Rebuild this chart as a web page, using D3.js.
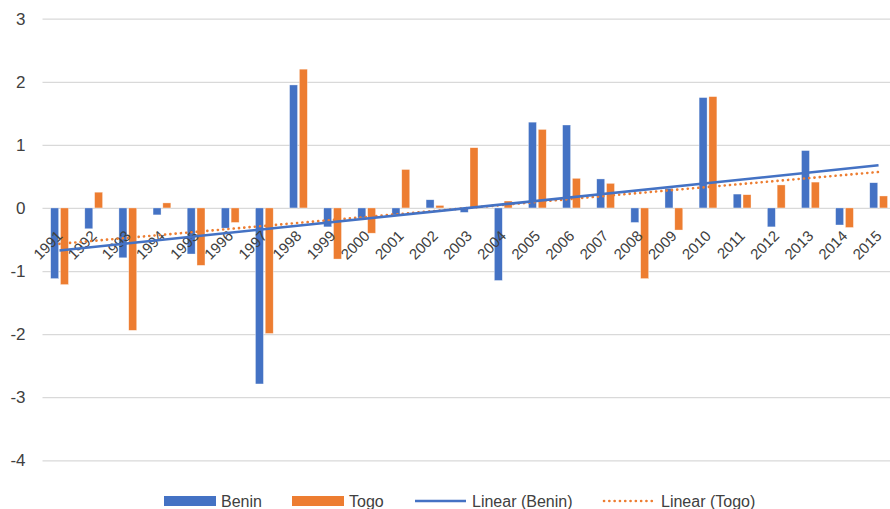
<!DOCTYPE html>
<html>
<head>
<meta charset="utf-8">
<script src="https://cdn.jsdelivr.net/npm/d3@7"></script>
<style>
  html, body { margin: 0; padding: 0; background: #fff; }
  svg { display: block; }
  text { font-family: "Liberation Sans", Arial, sans-serif; fill: #404040; }
</style>
</head>
<body>
<svg id="chart" width="890" height="509"></svg>
<script>
const years = ["1991","1992","1993","1994","1995","1996","1997","1998","1999","2000","2001","2002","2003","2004","2005","2006","2007","2008","2009","2010","2011","2012","2013","2014","2015"];
const benin = [-1.12,-0.33,-0.79,-0.11,-0.73,-0.32,-2.79,1.95,-0.30,-0.16,-0.11,0.13,-0.07,-1.15,1.36,1.315,0.46,-0.23,0.31,1.75,0.22,-0.30,0.91,-0.27,0.40];
const togo  = [-1.215,0.25,-1.94,0.08,-0.91,-0.23,-1.99,2.20,-0.81,-0.40,0.61,0.04,0.955,0.11,1.245,0.47,0.39,-1.12,-0.35,1.765,0.21,0.365,0.41,-0.31,0.19];
const yTicks = [3,2,1,0,-1,-2,-3,-4];
const seriesNames = ["Benin","Togo","Linear (Benin)","Linear (Togo)"];

const blue = "#4472C4", orange = "#ED7D31";
const svg = d3.select("#chart");

const x = d3.scaleBand().domain(years).range([42.4, 895.6]).paddingInner(0).paddingOuter(0);
const y = d3.scaleLinear().domain([-4, 3]).range([460.3, 18.7]);

// gridlines
const yAxis = d3.axisLeft(y).tickValues(yTicks).tickSize(-(890 - 42.5)).tickFormat(d => String(d));
const gy = svg.append("g").attr("transform", "translate(42.5,0)").call(yAxis);
gy.select(".domain").remove();
gy.selectAll(".tick line").attr("stroke", "#d9d9d9").attr("stroke-width", 1.3);
gy.selectAll(".tick text").attr("x", -17).attr("font-size", 17).attr("fill", "#404040")
  .style("font-family", "'Liberation Sans', Arial, sans-serif");

// bars
const bw = 8;
const plot = svg.append("g");
plot.selectAll("rect.benin").data(benin).join("rect")
  .attr("x", (d, i) => x(years[i]) + x.bandwidth() / 2 - 8.8)
  .attr("width", bw)
  .attr("y", d => Math.min(y(d), y(0)))
  .attr("height", d => Math.abs(y(d) - y(0)))
  .attr("fill", blue).attr("stroke", "#fff").attr("stroke-opacity", 0.6).attr("stroke-width", 0.6);
plot.selectAll("rect.togo").data(togo).join("rect")
  .attr("x", (d, i) => x(years[i]) + x.bandwidth() / 2 + 1.0)
  .attr("width", bw)
  .attr("y", d => Math.min(y(d), y(0)))
  .attr("height", d => Math.abs(y(d) - y(0)))
  .attr("fill", orange).attr("stroke", "#fff").attr("stroke-opacity", 0.6).attr("stroke-width", 0.6);

// x labels
const xAxis = d3.axisBottom(x).tickSize(0).tickPadding(0);
const gx = svg.append("g").attr("transform", `translate(0,${y(0)})`).call(xAxis);
gx.select(".domain").remove();
gx.selectAll(".tick text")
  .attr("text-anchor", "end")
  .attr("font-size", 15)
  .attr("fill", "#262626")
  .style("font-family", "'Liberation Sans', Arial, sans-serif")
  .attr("dy", null).attr("y", null)
  .attr("transform", "translate(4,29) rotate(-45)");

// trendlines (least squares over x = 1..n)
function linreg(vals) {
  const n = vals.length;
  const xs = vals.map((_, i) => i + 1);
  const mx = d3.mean(xs), my = d3.mean(vals);
  let sxy = 0, sxx = 0;
  xs.forEach((xv, i) => { sxy += (xv - mx) * (vals[i] - my); sxx += (xv - mx) * (xv - mx); });
  const b = sxy / sxx, a = my - b * mx;
  return [a + b * 1, a + b * n];
}
const cx = i => x(years[i]) + x.bandwidth() / 2;
const tb = linreg(benin), tt = linreg(togo);
const n = years.length;
const line = d3.line().x(d => d[0]).y(d => y(d[1]));
svg.append("path").attr("d", line([[cx(0), tt[0]], [cx(n - 1), tt[1]]]))
  .attr("stroke", orange).attr("stroke-width", 2.6).attr("fill", "none")
  .attr("stroke-dasharray", "0.1 5.2").attr("stroke-linecap", "round");
svg.append("path").attr("d", line([[cx(0), tb[0]], [cx(n - 1), tb[1]]]))
  .attr("stroke", blue).attr("stroke-width", 2.6).attr("fill", "none");

// legend
const lg = svg.append("g");
const ly = 501;
lg.append("rect").attr("x", 164).attr("y", ly - 5).attr("width", 52).attr("height", 10).attr("fill", blue);
lg.append("text").attr("x", 221).attr("y", ly).attr("dy", "0.36em").attr("font-size", 16).text(seriesNames[0]);
lg.append("rect").attr("x", 292).attr("y", ly - 5).attr("width", 52).attr("height", 10).attr("fill", orange);
lg.append("text").attr("x", 349).attr("y", ly).attr("dy", "0.36em").attr("font-size", 16).text(seriesNames[1]);
lg.append("line").attr("x1", 415).attr("x2", 466).attr("y1", ly).attr("y2", ly)
  .attr("stroke", blue).attr("stroke-width", 2.6);
lg.append("text").attr("x", 472).attr("y", ly).attr("dy", "0.36em").attr("font-size", 16).text(seriesNames[2]);
lg.append("line").attr("x1", 604).attr("x2", 655).attr("y1", ly).attr("y2", ly)
  .attr("stroke", orange).attr("stroke-width", 2.6).attr("stroke-dasharray", "0.1 5.2").attr("stroke-linecap", "round");
lg.append("text").attr("x", 661).attr("y", ly).attr("dy", "0.36em").attr("font-size", 16).text(seriesNames[3]);
</script>
</body>
</html>
